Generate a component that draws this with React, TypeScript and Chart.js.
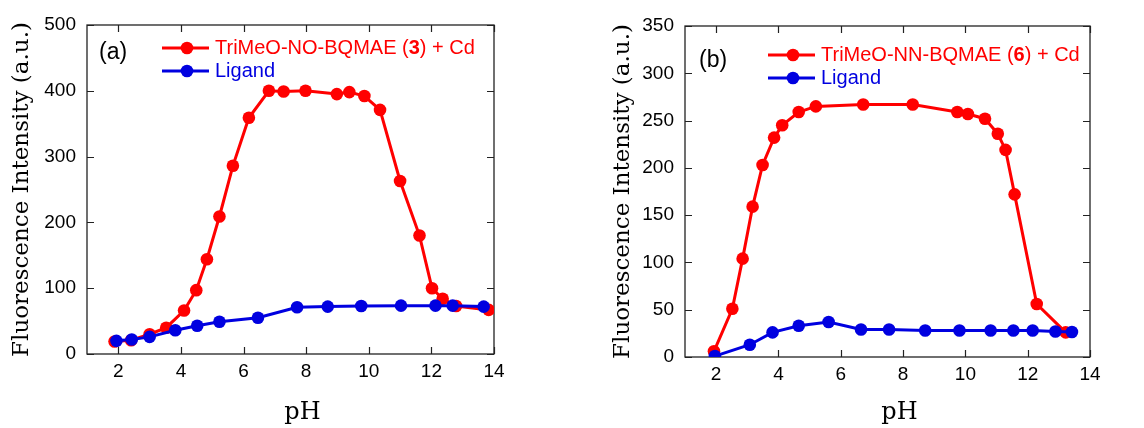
import React, { useEffect, useRef } from 'react';
import { Chart, registerables } from 'chart.js';

Chart.register(...registerables);

// ---------- DATA ----------
// Panel (a): TriMeO-NO-BQMAE (3) + Cd
const phA_complex = [1.88, 2.41, 3.0, 3.53, 4.1, 4.49, 4.83, 5.23, 5.66, 6.17, 6.81, 7.28, 7.98, 8.98, 9.38, 9.86, 10.36, 11.0, 11.62, 12.02, 12.36, 12.79, 13.83];
const intA_complex = [19, 21, 30, 40, 66, 97, 144, 209, 286, 359, 400, 399, 400, 395, 398, 392, 371, 263, 180, 100, 84, 73, 67];
// Panel (a): ligand
const phA_ligand = [1.94, 2.43, 3.0, 3.82, 4.52, 5.23, 6.46, 7.71, 8.69, 9.76, 11.03, 12.13, 12.68, 13.67];
const intA_ligand = [20, 22, 26, 36, 43, 49, 55, 71, 72, 73, 73.5, 73.5, 73.5, 72];

// Panel (b): TriMeO-NN-BQMAE (6) + Cd
const phB_complex = [1.93, 2.52, 2.85, 3.17, 3.49, 3.86, 4.12, 4.65, 5.2, 6.72, 8.31, 9.74, 10.08, 10.63, 11.04, 11.29, 11.58, 12.29, 13.22];
const intB_complex = [6, 51, 104, 159, 203, 232, 245, 259, 265, 267, 267, 259, 257, 252, 236, 219, 172, 56, 26];
// Panel (b): ligand
const phB_ligand = [1.96, 3.08, 3.81, 4.65, 5.61, 6.65, 7.55, 8.71, 9.81, 10.81, 11.54, 12.16, 12.89, 13.42];
const intB_ligand = [1, 13, 26, 33, 37, 29, 29, 28, 28, 28, 28, 28, 27, 26.5];

// Ticks
const xTickValues = [2, 4, 6, 8, 10, 12, 14];
const yTicksA = [0, 100, 200, 300, 400, 500];
const yTicksB = [0, 50, 100, 150, 200, 250, 300, 350];

// Labels
const panelLabelA = '(a)';
const panelLabelB = '(b)';
const legendA = [
  { text: 'TriMeO-NO-BQMAE (', bold: false },
  { text: '3', bold: true },
  { text: ') + Cd', bold: false },
];
const legendB = [
  { text: 'TriMeO-NN-BQMAE (', bold: false },
  { text: '6', bold: true },
  { text: ') + Cd', bold: false },
];
const ligandLabel = 'Ligand';
const xTitle = 'pH';
const yTitle = 'Fluorescence Intensity (a.u.)';

// ---------- STYLE ----------
const RED = '#ff0000';
const BLUE = '#0000e0';
const FRAME = '#222222';
const SANS = '"Liberation Sans", Arial, sans-serif';
const SERIF = '"DejaVu Serif", serif';

const decorPlugin = {
  id: 'decor',
  beforeDatasetsDraw(chart: any) {
    const { ctx, chartArea: a, scales } = chart;
    ctx.save();
    ctx.strokeStyle = FRAME;
    ctx.lineWidth = 1.3;
    ctx.strokeRect(a.left, a.top, a.right - a.left, a.bottom - a.top);
    const tl = 7;
    ctx.lineWidth = 1.2;
    ctx.beginPath();
    scales.x.ticks.forEach((t: any) => {
      const px = Math.round(scales.x.getPixelForValue(t.value)) + 0.5;
      ctx.moveTo(px, a.bottom);
      ctx.lineTo(px, a.bottom - tl);
      ctx.moveTo(px, a.top);
      ctx.lineTo(px, a.top + tl);
    });
    scales.y.ticks.forEach((t: any) => {
      const py = Math.round(scales.y.getPixelForValue(t.value)) + 0.5;
      ctx.moveTo(a.left, py);
      ctx.lineTo(a.left + tl, py);
      ctx.moveTo(a.right, py);
      ctx.lineTo(a.right - tl, py);
    });
    ctx.stroke();
    ctx.restore();
  },
  afterDatasetsDraw(chart: any, _args: any, opts: any) {
    const { ctx, chartArea: a } = chart;
    ctx.save();
    // x-axis title
    ctx.fillStyle = '#000';
    ctx.font = `24px ${SERIF}`;
    ctx.textAlign = 'center';
    ctx.textBaseline = 'middle';
    ctx.fillText(opts.xTitle, (a.left + a.right) / 2 + 12, opts.xTitleY);
    // panel label
    ctx.font = `23px ${SANS}`;
    ctx.textAlign = 'left';
    ctx.fillText(opts.panelLabel, a.left + opts.labelDx, a.top + opts.labelDy);
    // legend
    const rows = [
      { color: RED, parts: opts.legendParts },
      { color: BLUE, parts: [{ text: opts.ligandLabel, bold: false }] },
    ];
    rows.forEach((r, i) => {
      const y = a.top + opts.legDy + i * opts.legRowH;
      const x0 = a.left + opts.legDx;
      ctx.strokeStyle = r.color;
      ctx.lineWidth = 3;
      ctx.beginPath();
      ctx.moveTo(x0, y);
      ctx.lineTo(x0 + 47, y);
      ctx.stroke();
      ctx.fillStyle = r.color;
      ctx.beginPath();
      ctx.arc(x0 + 25, y, 6.3, 0, Math.PI * 2);
      ctx.fill();
      let tx = x0 + 53;
      r.parts.forEach((p: any) => {
        ctx.font = `${p.bold ? 'bold ' : ''}20px ${SANS}`;
        ctx.fillText(p.text, tx, y);
        tx += ctx.measureText(p.text).width;
      });
    });
    ctx.restore();
  },
};

function makeConfig(p: any) {
  const mk = (xs: number[], ys: number[]) => xs.map((x, i) => ({ x, y: ys[i] }));
  return {
    type: 'line',
    data: {
      datasets: [
        {
          label: 'complex',
          data: mk(p.cx, p.cy),
          borderColor: RED,
          backgroundColor: RED,
          pointBackgroundColor: RED,
          pointBorderWidth: 0,
          pointRadius: 6.3,
          borderWidth: 3,
          tension: 0,
          order: 1,
        },
        {
          label: ligandLabel,
          data: mk(p.lx, p.ly),
          borderColor: BLUE,
          backgroundColor: BLUE,
          pointBackgroundColor: BLUE,
          pointBorderWidth: 0,
          pointRadius: 6.3,
          borderWidth: 3,
          tension: 0,
          order: 0,
        },
      ],
    },
    options: {
      animation: false,
      responsive: false,
      layout: { padding: { top: p.padTop, right: p.padRight, left: 0, bottom: 0 } },
      plugins: {
        legend: { display: false },
        tooltip: { enabled: false },
        decor: {
          xTitle,
          xTitleY: 413,
          panelLabel: p.panelLabel,
          labelDx: p.labelDx,
          labelDy: p.labelDy,
          legendParts: p.legendParts,
          ligandLabel,
          legDx: p.legDx,
          legDy: p.legDy,
          legRowH: 23,
        },
      },
      scales: {
        x: {
          type: 'linear',
          min: 1,
          max: 14,
          afterBuildTicks: (s: any) => {
            s.ticks = xTickValues.map((v) => ({ value: v }));
          },
          afterFit: (s: any) => {
            s.height = p.xAxisHeight;
          },
          grid: { display: false, drawTicks: false },
          border: { display: false },
          ticks: { font: { family: SANS, size: 19 }, color: '#000', padding: 6, maxRotation: 0, autoSkip: false },
          title: { display: false },
        },
        y: {
          type: 'linear',
          min: 0,
          max: p.yMax,
          afterBuildTicks: (s: any) => {
            s.ticks = p.yTicks.map((v: number) => ({ value: v }));
          },
          afterFit: (s: any) => {
            s.width = p.yAxisWidth;
          },
          grid: { display: false, drawTicks: false },
          border: { display: false },
          ticks: { font: { family: SANS, size: 19 }, color: '#000', padding: 11, autoSkip: false },
          title: {
            display: true,
            text: yTitle,
            color: '#000',
            font: { family: SERIF, size: 23, lineHeight: 1.2 },
            padding: { top: p.yTitlePad, bottom: 0 },
          },
        },
      },
    },
    plugins: [decorPlugin],
  };
}

function Panel(props: any) {
  const ref = useRef<HTMLCanvasElement | null>(null);
  useEffect(() => {
    if (!ref.current) return;
    const chart = new Chart(ref.current, makeConfig(props.cfg) as any);
    return () => chart.destroy();
  }, []);
  return (
    <canvas
      ref={ref}
      width={props.width}
      height={428}
      style={{ position: 'absolute', left: props.left, top: 0, width: props.width, height: 428, display: 'block' }}
    />
  );
}

export default function App() {
  const cfgA = {
    cx: phA_complex, cy: intA_complex, lx: phA_ligand, ly: intA_ligand,
    yMax: 500, yTicks: yTicksA,
    padTop: 25, padRight: 66, xAxisHeight: 74, yAxisWidth: 87, yTitlePad: 8,
    panelLabel: panelLabelA, labelDx: 12, labelDy: 28,
    legendParts: legendA, legDx: 75, legDy: 23,
  };
  const cfgB = {
    cx: phB_complex, cy: intB_complex, lx: phB_ligand, ly: intB_ligand,
    yMax: 350, yTicks: yTicksB,
    padTop: 26, padRight: 54, xAxisHeight: 71, yAxisWidth: 105, yTitlePad: 29,
    panelLabel: panelLabelB, labelDx: 14, labelDy: 35,
    legendParts: legendB, legDx: 83, legDy: 29,
  };
  return (
    <div style={{ position: 'fixed', left: 0, top: 0, width: 1144, height: 428, background: '#fff', overflow: 'hidden' }}>
      <Panel left={0} width={560} cfg={cfgA} />
      <Panel left={580} width={564} cfg={cfgB} />
    </div>
  );
}
